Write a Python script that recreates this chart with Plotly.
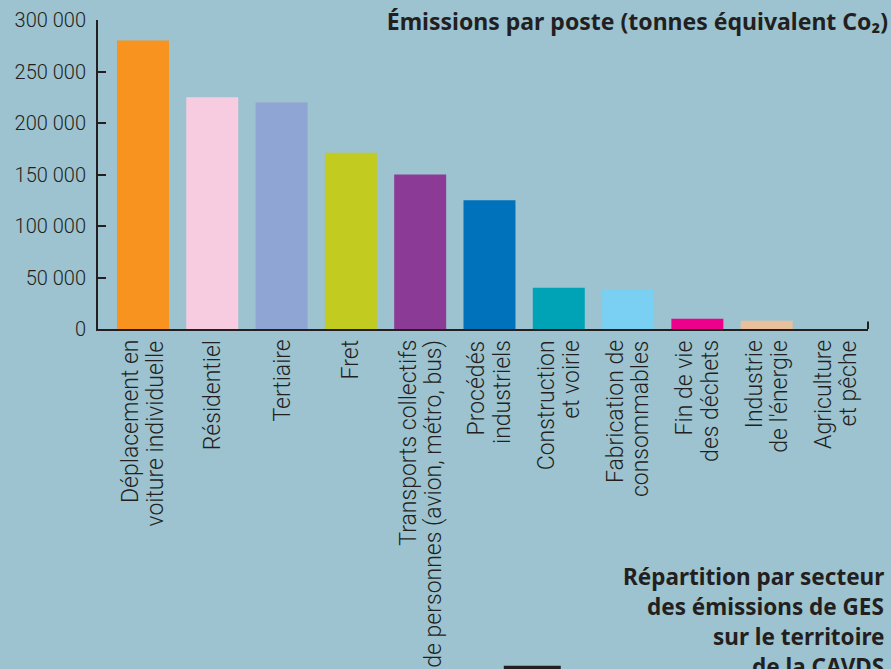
import plotly.graph_objects as go

categories = [
    "Déplacement en<br>voiture individuelle",
    "Résidentiel",
    "Tertiaire",
    "Fret",
    "Transports collectifs<br>de personnes (avion, métro, bus)",
    "Procédés<br>industriels",
    "Construction<br>et voirie",
    "Fabrication de<br>consommables",
    "Fin de vie<br>des déchets",
    "Industrie<br>de l'énergie",
    "Agriculture<br>et pêche",
]
values = [280000, 225000, 220000, 171000, 150000, 125000, 40000, 38000, 10000, 8000, 0]
colors = ["#f7931e", "#f8cce0", "#8fa6d4", "#c2cc20", "#8b3b95", "#0072bb",
          "#00a3b5", "#7ad0f3", "#ec008c", "#e9c09b", "#9cc3cf"]

tick_vals = [0, 50000, 100000, 150000, 200000, 250000, 300000]
tick_text = ["0", "50 000", "100 000", "150 000", "200 000", "250 000", "300 000"]

title_text = "Émissions par poste (tonnes équivalent Co₂)"
note_lines = ["Répartition par secteur", "des émissions de GES", "sur le territoire", "de la CAVDS"]

BG = "#9cc3cf"
INK = "#231f20"

fig = go.Figure(go.Bar(x=categories, y=values, marker=dict(color=colors, line=dict(width=0))))

fig.update_layout(
    width=891, height=669,
    paper_bgcolor=BG, plot_bgcolor=BG,
    margin=dict(l=98, r=23, t=20, b=340, autoexpand=False),
    bargap=0.25,
    showlegend=False,
    font=dict(family="Roboto", color=INK),
    title=dict(text=title_text, x=888 / 891, xref="container", xanchor="right",
               y=1 - 22 / 669, yref="container", yanchor="middle",
               font=dict(family="Noto Sans", size=23, weight="bold", color=INK)),
)

fig.update_yaxes(
    range=[0, 300000], tickvals=tick_vals, ticktext=tick_text,
    showgrid=False, zeroline=False,
    showline=True, linecolor=INK, linewidth=2,
    ticks="inside", ticklen=8, tickwidth=2, tickcolor=INK,
    tickfont=dict(family="Roboto", size=20, color=INK, weight=300),
    ticklabelstandoff=6, automargin=False,
)
fig.update_xaxes(
    range=[-0.649, 10.462], showgrid=False, zeroline=False,
    showline=True, linecolor=INK, linewidth=2, ticks="",
    showticklabels=False, automargin=False,
)

# category labels: one rotated text per line, tight line spacing
for cat in categories:
    lines = cat.split("<br>")
    n = len(lines)
    for j, line in enumerate(lines):
        fig.add_annotation(text=line, x=cat, xref="x", yref="paper",
                           y=(329 - 338) / 309, yanchor="top", xanchor="center",
                           xshift=(j - (n - 1) / 2) * 25, textangle=-90,
                           showarrow=False,
                           font=dict(family="Roboto", size=23, weight=300, color=INK))

# small end tick at right of x axis
fig.add_shape(type="line", xref="paper", yref="paper", x0=1, x1=1, y0=0, y1=0.024,
              line=dict(color=INK, width=2))
# partial dark shape at the bottom edge
fig.add_shape(type="rect", xref="paper", yref="paper", x0=0.527, x1=0.601, y0=-1.2, y1=-1.09,
              line=dict(width=0), fillcolor=INK)

for i, line in enumerate(note_lines):
    fig.add_annotation(text=line, xref="paper", yref="paper", x=(886 - 98) / 770,
                       xanchor="right", y=(329 - 576 - 30 * i) / 309, yanchor="middle",
                       showarrow=False,
                       font=dict(family="Noto Sans", size=22.5, weight="bold", color=INK))

fig.write_html("out.html",
               config={"displayModeBar": False},
               post_script="document.body.style.margin='0';document.body.style.padding='0';"
                           "document.body.style.overflow='hidden';")
